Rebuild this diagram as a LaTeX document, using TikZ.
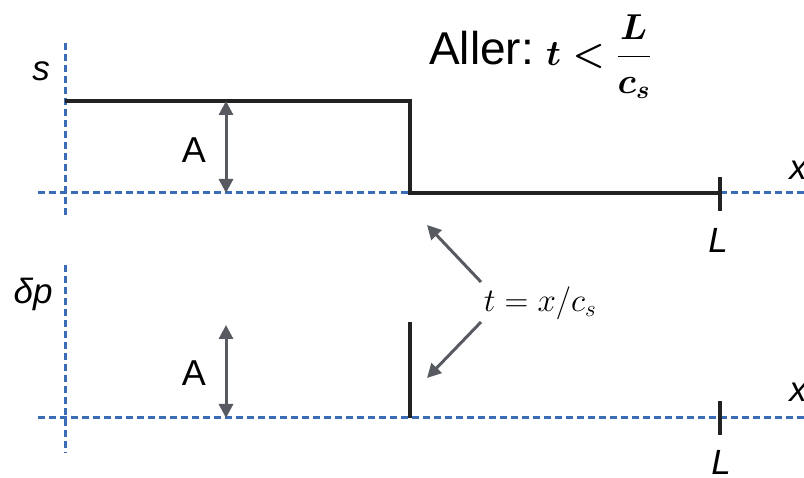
\RequirePackage{fix-cm}
\documentclass[tikz,border=0pt]{standalone}
\usepackage{fontspec}
\usepackage{amsmath}
\setmainfont{Liberation Sans}
\usetikzlibrary{arrows.meta}
\definecolor{axisblue}{HTML}{3A6DB5}
\definecolor{arrgray}{HTML}{575B61}
\definecolor{sig}{HTML}{222222}
\begin{document}
\begin{tikzpicture}[x=1pt,y=-1pt,
 axis/.style={axisblue, line width=3pt, dash pattern=on 7pt off 4pt},
 signal/.style={sig, line width=4pt},
 pointer/.style={arrgray, line width=3pt, -{Triangle[length=14pt,width=14pt]}},
 ampl/.style={arrgray, line width=3pt, {Triangle[length=14pt,width=14pt]}-{Triangle[length=14pt,width=14pt]}},
 lbl/.style={inner sep=0pt, font=\fontsize{35}{40}\selectfont\itshape},
 albl/.style={inner sep=0pt, font=\fontsize{36}{40}\selectfont},
]
\useasboundingbox (0,0) rectangle (804,478);
% top axes
\coordinate (tv1) at (65,43);
\coordinate (tv2) at (65,215);
\coordinate (th1) at (38,193);
\coordinate (th2) at (806,193);
\draw[axis] (tv1) -- (tv2);
\draw[axis] (th1) -- (th2);
% bottom axes
\coordinate (bv1) at (65,265);
\coordinate (bv2) at (65,453);
\coordinate (bh1) at (38,418);
\coordinate (bh2) at (806,418);
\draw[axis] (bv1) -- (bv2);
\draw[axis] (bh1) -- (bh2);
% step signal
\coordinate (s0) at (65,101);
\coordinate (s1) at (410,101);
\coordinate (s2) at (410,193);
\coordinate (s3) at (720,193);
\draw[signal] (s0) -- (s1) -- (s2) -- (s3);
\coordinate (tk1) at (720,177);
\coordinate (tk2) at (720,211);
\draw[signal] (tk1) -- (tk2);
\coordinate (bk1) at (720,401);
\coordinate (bk2) at (720,435);
\draw[signal] (bk1) -- (bk2);
% pressure pulse
\coordinate (p1) at (410,322);
\coordinate (p2) at (410,418);
\draw[signal] (p1) -- (p2);
% amplitude arrows
\coordinate (a1) at (226,101);
\coordinate (a2) at (226,193);
\draw[ampl] (a1) -- (a2);
\coordinate (a3) at (226,325);
\coordinate (a4) at (226,418);
\draw[ampl] (a3) -- (a4);
% labels
\node[lbl] (ls) at (41,71) {s};
\node[lbl] (ldp) at (33,294) {δp};
\node[lbl] (lL1) at (718,240) {L};
\node[lbl] (lL2) at (721,462) {L};
\node[lbl] (lx1) at (798,170) {x};
\node[lbl] (lx2) at (798,392) {x};
\node[albl] (lA1) at (194,150) {A};
\node[albl] (lA2) at (194,373) {A};
% title
\node[inner sep=0pt, anchor=base west, font=\fontsize{46}{50}\selectfont] (aller) at (429,65) {Aller:};
\node[inner sep=0pt, anchor=base west, font=\fontsize{36}{40}\selectfont\boldmath] (cond) at (546,66) {$t<\dfrac{L}{c_s}$};
% front label and pointers
\node[inner sep=0pt, font=\fontsize{33}{38}\selectfont] (front) at (540,303) {$t=x/c_s$};
\coordinate (f1) at (481,282);
\coordinate (f1e) at (427,225);
\coordinate (f2) at (481,322);
\coordinate (f2e) at (427,378);
\draw[pointer] (f1) -- (f1e);
\draw[pointer] (f2) -- (f2e);
\end{tikzpicture}
\end{document}
